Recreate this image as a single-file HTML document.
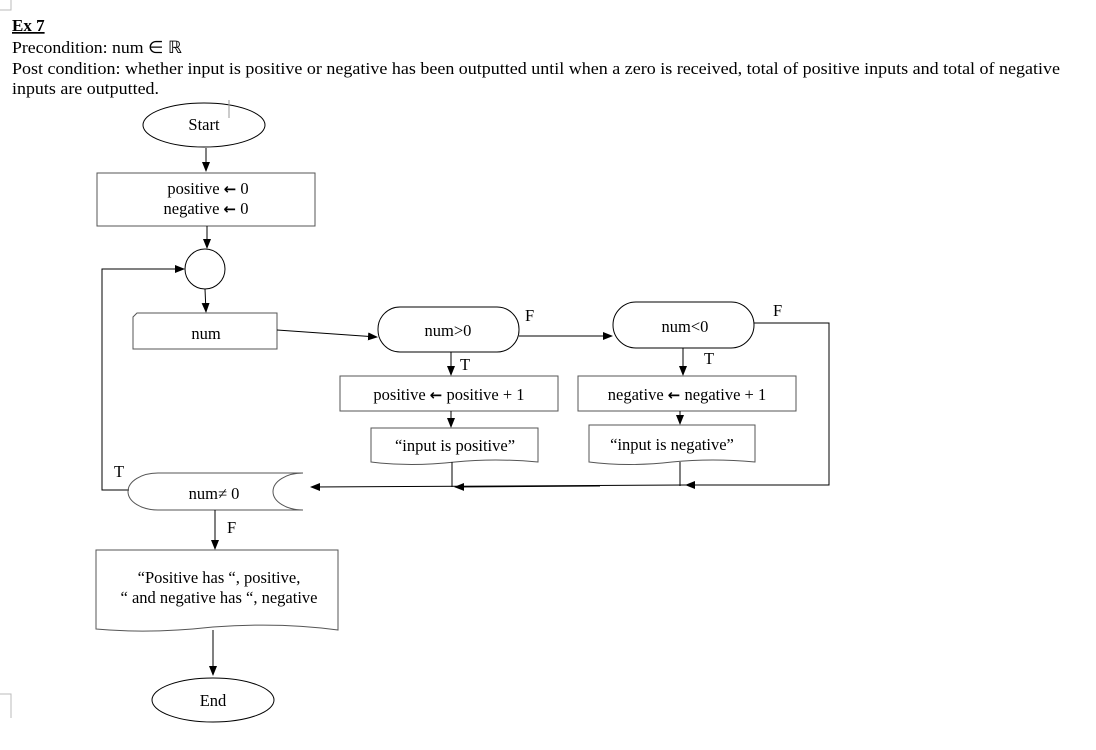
<!DOCTYPE html>
<html><head><meta charset="utf-8"><style>
html,body{margin:0;padding:0;background:#fff;}
svg{display:block;}
text{font-family:"Liberation Serif",serif;font-size:16.5px;fill:#000;}
.ar{font-family:"DejaVu Sans",sans-serif;font-size:15px;font-weight:bold;}
</style></head><body>
<svg width="1096" height="750" viewBox="0 0 1096 750" xmlns="http://www.w3.org/2000/svg">
<defs><marker id="a" markerWidth="10" markerHeight="10" refX="9" refY="5" orient="auto" markerUnits="userSpaceOnUse"><path d="M0,1 L10,5 L0,9 Z" fill="#000"/></marker></defs>
<path d="M0,10 H11 V0" fill="none" stroke="#bbb"/>
<path d="M0,694 H11 V718" fill="none" stroke="#bbb"/>
<text x="12" y="31" style="font-weight:bold;font-size:17px;text-decoration:underline">Ex 7</text>
<text x="12" y="53" style="font-size:17px" textLength="170" lengthAdjust="spacingAndGlyphs">Precondition: num ∈ ℝ</text>
<text x="12" y="74" style="font-size:17px" textLength="1048" lengthAdjust="spacingAndGlyphs">Post condition: whether input is positive or negative has been outputted until when a zero is received, total of positive inputs and total of negative</text>
<text x="12" y="94" style="font-size:17px" textLength="147" lengthAdjust="spacingAndGlyphs">inputs are outputted.</text>
<g fill="none" stroke="#000" stroke-width="1">
<ellipse cx="204" cy="125" rx="61" ry="22"/>
<line x1="229" y1="100" x2="229" y2="118" stroke="#999"/>
<line x1="206" y1="148" x2="206" y2="171" marker-end="url(#a)"/>
<rect x="97" y="173" width="218" height="53" stroke="#555"/>
<line x1="207" y1="226" x2="207" y2="248" marker-end="url(#a)"/>
<circle cx="205" cy="269" r="20"/>
<polyline points="129,490 102,490 102,269 184,269" marker-end="url(#a)"/>
<line x1="205" y1="289" x2="206" y2="312" marker-end="url(#a)"/>
<path d="M137,313 H277 V349 H133 V317 Z" stroke="#555"/>
<line x1="277" y1="330" x2="377" y2="337" marker-end="url(#a)"/>
<rect x="378" y="307" width="141" height="45" rx="22"/>
<line x1="519" y1="336" x2="612" y2="336" marker-end="url(#a)"/>
<rect x="613" y="302" width="141" height="46" rx="23"/>
<polyline points="754,323 829,323 829,485 686,485" marker-end="url(#a)"/>
<line x1="451" y1="352" x2="451" y2="375" marker-end="url(#a)"/>
<line x1="683" y1="348" x2="683" y2="375" marker-end="url(#a)"/>
<rect x="340" y="376" width="218" height="35" stroke="#555"/>
<rect x="578" y="376" width="218" height="35" stroke="#555"/>
<line x1="451" y1="411" x2="451" y2="427" marker-end="url(#a)"/>
<line x1="680" y1="411" x2="680" y2="424" marker-end="url(#a)"/>
<path d="M371,428 H538 V462 Q495,458 455,462 Q410,467 371,462 Z" stroke="#555"/>
<path d="M589,425 H755 V462 Q712,458 672,462 Q628,467 589,462 Z" stroke="#555"/>
<line x1="452" y1="462" x2="452" y2="487"/>
<line x1="680" y1="462" x2="680" y2="486"/>
<line x1="686" y1="485" x2="311" y2="487" marker-end="url(#a)"/>
<line x1="600" y1="486" x2="455" y2="487" marker-end="url(#a)"/>
<path d="M303,473 H158 A30,18.5 0 0 0 158,510 H303 A30,18.5 0 0 1 303,473" stroke="#555"/>
<line x1="215" y1="510" x2="215" y2="549" marker-end="url(#a)"/>
<path d="M96,550 H338 V630 Q280,622 213,627 Q150,634 96,629 Z" stroke="#555"/>
<line x1="213" y1="630" x2="213" y2="675" marker-end="url(#a)"/>
<ellipse cx="213" cy="700" rx="61" ry="22"/>
</g>
<g text-anchor="middle">
<text x="204" y="130">Start</text>
<text x="208" y="194">positive <tspan class="ar">←</tspan> 0</text>
<text x="206" y="214">negative <tspan class="ar">←</tspan> 0</text>
<text x="206" y="339">num</text>
<text x="448" y="336">num&gt;0</text>
<text x="685" y="332">num&lt;0</text>
<text x="449" y="400">positive <tspan class="ar">←</tspan> positive + 1</text>
<text x="687" y="400">negative <tspan class="ar">←</tspan> negative + 1</text>
<text x="455" y="451">“input is positive”</text>
<text x="672" y="450">“input is negative”</text>
<text x="214" y="499">num≠ 0</text>
<text x="219" y="583">“Positive has “, positive,</text>
<text x="219" y="603">“ and negative has “, negative</text>
<text x="213" y="706">End</text>
</g>
<text x="525" y="321">F</text>
<text x="773" y="316">F</text>
<text x="460" y="370">T</text>
<text x="704" y="364">T</text>
<text x="114" y="477">T</text>
<text x="227" y="533">F</text>
</svg>
</body></html>
